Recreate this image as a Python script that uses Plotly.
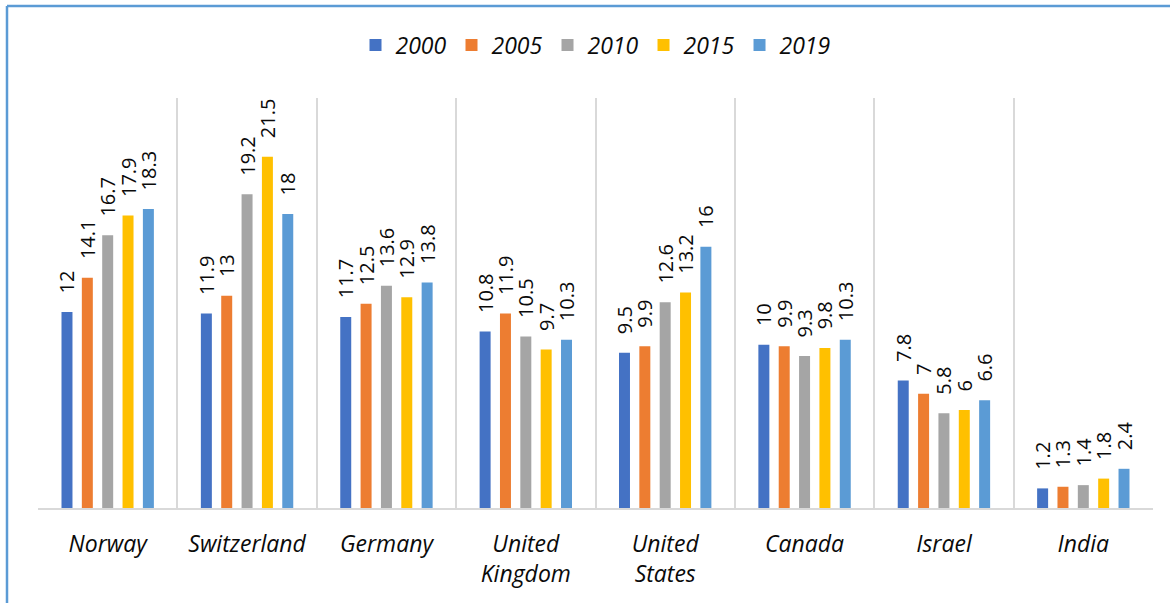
import plotly.graph_objects as go

categories = ["Norway", "Switzerland", "Germany", "United<br>Kingdom", "United<br>States", "Canada", "Israel", "India"]
years = ["2000", "2005", "2010", "2015", "2019"]
v2000 = [12, 11.9, 11.7, 10.8, 9.5, 10, 7.8, 1.2]
v2005 = [14.1, 13, 12.5, 11.9, 9.9, 9.9, 7, 1.3]
v2010 = [16.7, 19.2, 13.6, 10.5, 12.6, 9.3, 5.8, 1.4]
v2015 = [17.9, 21.5, 12.9, 9.7, 13.2, 9.8, 6, 1.8]
v2019 = [18.3, 18, 13.8, 10.3, 16, 10.3, 6.6, 2.4]
series = [v2000, v2005, v2010, v2015, v2019]
colors = ["#4472C4", "#ED7D31", "#A5A5A5", "#FFC000", "#5B9BD5"]

FONT = "Open Sans"
PAD = "\u00a0\u00a0\u00a0"

fig = go.Figure()
for name, vals, col in zip(years, series, colors):
    fig.add_trace(go.Bar(
        x=categories, y=vals, name=name, marker=dict(color=col, line=dict(width=0)),
        text=[f"{PAD}{v:g}" for v in vals], textposition="outside", textangle=-90,
        constraintext="none",
        textfont=dict(family=FONT, size=20, color="#0A0A0A"), cliponaxis=False,
    ))

fig.update_layout(
    width=1170, height=603,
    margin=dict(l=38, r=17, t=98, b=95),
    paper_bgcolor="white", plot_bgcolor="white",
    barmode="group", bargap=0.27, bargroupgap=0.46,
    legend=dict(orientation="h", x=0.5, xanchor="center", y=1.129, yanchor="middle",
                font=dict(family=FONT, size=23, color="#0A0A0A", style="italic"),
                itemwidth=30, traceorder="normal"),
    xaxis=dict(tickson="boundaries", showgrid=True, gridcolor="#D9D9D9", gridwidth=1.5,
               showline=True, linecolor="#D9D9D9", linewidth=2, ticks="",
               tickfont=dict(family=FONT, size=23, color="#0A0A0A", style="italic"),
               ticklabelstandoff=14),
    yaxis=dict(range=[0, 25.1], showgrid=False, showticklabels=False, zeroline=False, showline=False),
    shapes=[
        dict(type="line", xref="paper", yref="paper", x0=-0.0278, x1=1.2, y0=1.2244, y1=1.2244,
             line=dict(color="#5B9BD5", width=2.5)),
        dict(type="line", xref="paper", yref="paper", x0=-0.0278, x1=-0.0278, y0=1.2244, y1=-0.5,
             line=dict(color="#5B9BD5", width=2.5)),
    ],
    font=dict(family=FONT),
)

fig.write_html("out.html")
